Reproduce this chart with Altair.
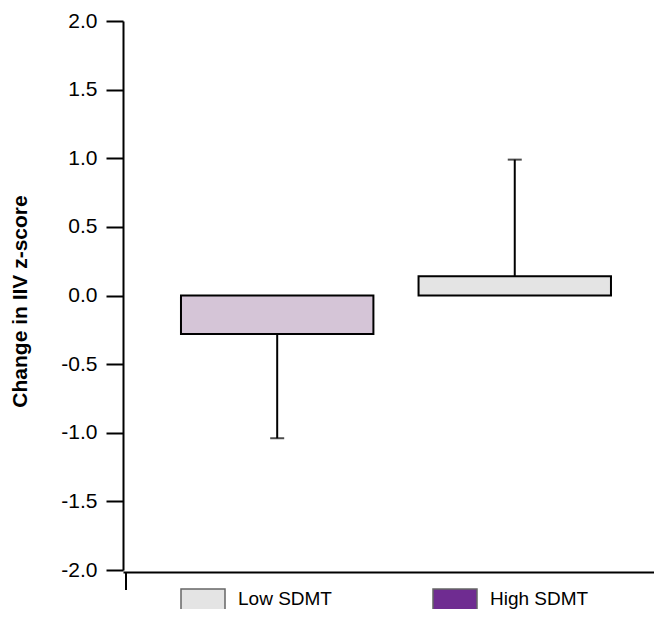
import altair as alt
import pandas as pd

# ---- data ----
groups = ["High SDMT", "Low SDMT"]          # bar order, left to right
means = [-0.28, 0.14]                         # bar values
err_ends = [-1.04, 0.99]                      # error bar ends
bar_fills = ["#d5c5d7", "#e4e4e4"]
legend_labels = ["Low SDMT", "High SDMT"]
legend_colors = ["#e4e4e4", "#6f2c91"]
y_ticks = [-2.0, -1.5, -1.0, -0.5, 0.0, 0.5, 1.0, 1.5, 2.0]

df = pd.DataFrame({"group": groups, "mean": means, "err": err_ends, "fill": bar_fills})

FONT = "Liberation Sans"

x_enc = alt.X(
    "group:N", sort=groups,
    scale=alt.Scale(paddingInner=0.19, paddingOuter=0.2126, align=0.574),
    axis=alt.Axis(title=None, labels=False, ticks=False, domain=True,
                  domainColor="black", domainWidth=2, offset=2, grid=False),
)
y_scale = alt.Scale(domain=[-2, 2], nice=False, zero=False)
y_axis = alt.Axis(
    values=y_ticks,
    labelExpr="datum.value < 0 ? '-' + format(-datum.value, '.1f') : format(datum.value, '.1f')",
    tickSize=17, tickWidth=2, tickColor="black",
    domainColor="black", domainWidth=2, grid=False,
    labelFont=FONT, labelFontSize=21, labelColor="black", labelPadding=9,
    title="Change in IIV z-score", titleFont=FONT, titleFontSize=21,
    titleFontWeight="bold", titleColor="black", titleAngle=270,
    titleX=-97, titleY=280, titleAlign="center", titleBaseline="alphabetic",
)

base = alt.Chart(df)

bars = base.mark_bar(stroke="black", strokeWidth=2).encode(
    x=x_enc,
    y=alt.Y("mean:Q", scale=y_scale, axis=y_axis),
    fill=alt.Fill("fill:N", scale=None),
)

err_rule = base.mark_rule(color="black", strokeWidth=2).encode(
    x=alt.X("group:N", sort=groups),
    y=alt.Y("mean:Q"),
    y2="err:Q",
)

caps = base.mark_tick(color="black", thickness=2, size=14, orient="horizontal").encode(
    x=alt.X("group:N", sort=groups),
    y=alt.Y("err:Q"),
)

legend_layer = base.mark_square(opacity=0).encode(
    x=alt.X("group:N", sort=groups),
    y=alt.Y("mean:Q"),
    color=alt.Color(
        "group:N",
        scale=alt.Scale(domain=legend_labels, range=legend_colors),
        legend=alt.Legend(
            title=None, orient="none", legendX=57, legendY=555,
            direction="horizontal", columnPadding=98,
            symbolType="M-1,-0.47L1,-0.47L1,0.47L-1,0.47Z", symbolSize=1936,
            symbolOpacity=1, symbolStrokeColor="#666666", symbolStrokeWidth=1.5,
            labelFont=FONT, labelFontSize=19, labelColor="black", labelOffset=12,
            labelLimit=200,
        ),
    ),
)

x_tick = alt.Chart(pd.DataFrame({"k": [0]})).mark_rule(color="black", strokeWidth=2).encode(
    x=alt.value(3), y=alt.value(551), y2=alt.value(569)
)

chart = alt.layer(bars, err_rule, caps, legend_layer, x_tick).properties(
    width=531, height=549,
    autosize=alt.AutoSizeParams(type="none"),
    padding={"left": 115, "right": 0, "top": 13, "bottom": 39},
).configure_view(stroke=None)

chart.save("out.html", embed_options={"renderer": "svg", "actions": False})
